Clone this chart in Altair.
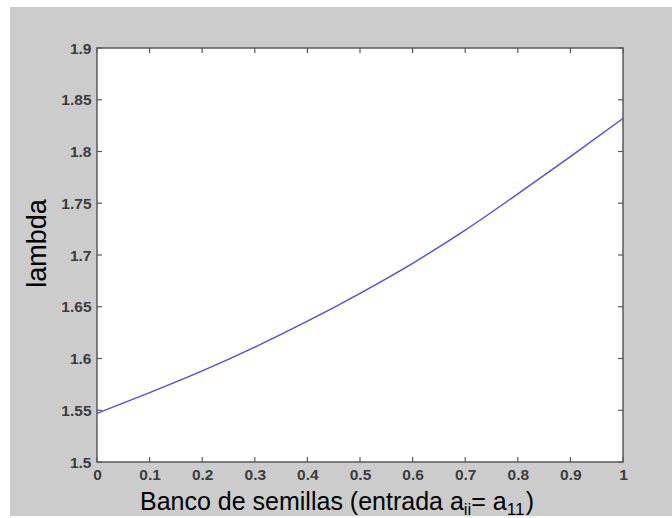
import altair as alt
import pandas as pd

# ---- data ----
x_vals = [0.0, 0.1, 0.2, 0.3, 0.4, 0.5, 0.6, 0.7, 0.8, 0.9, 1.0]
lambda_vals = [1.547, 1.567, 1.588, 1.611, 1.636, 1.663, 1.692, 1.724, 1.759, 1.795, 1.832]
x_ticks = [0, 0.1, 0.2, 0.3, 0.4, 0.5, 0.6, 0.7, 0.8, 0.9, 1]
y_ticks = [1.5, 1.55, 1.6, 1.65, 1.7, 1.75, 1.8, 1.85, 1.9]

df = pd.DataFrame({"x": x_vals, "lambda": lambda_vals})

W, H = 526, 414
FONT = "Liberation Sans"
GRAY_BG = "#cccccc"
FRAME = "#5a5a5a"
LABEL_C = "#3c3c3c"
LINE_C = "#4f4fe6"

xscale = alt.Scale(domain=[0, 1], nice=False, zero=False)
yscale = alt.Scale(domain=[1.5, 1.9], nice=False, zero=False)
one = alt.Data(values=[{"k": 0}])

bg = alt.Chart(one).mark_rect(color=GRAY_BG).encode(
    x=alt.value(-87), x2=alt.value(575), y=alt.value(-41), y2=alt.value(468)
)
plot_bg = alt.Chart(one).mark_rect(color="white").encode(
    x=alt.value(0), x2=alt.value(W), y=alt.value(0), y2=alt.value(H)
)

line = alt.Chart(df).mark_line(color=LINE_C, strokeWidth=1.4, interpolate="monotone").encode(
    x=alt.X("x:Q", scale=xscale, axis=alt.Axis(
        values=x_ticks, labelExpr="'' + datum.value", ticks=False, domain=False, grid=False,
        title=None, labelFont=FONT, labelFontSize=15.5, labelFontWeight="bold",
        labelColor=LABEL_C, labelPadding=5,
        labelFlush=False, labelOverlap=False, zindex=1)),
    y=alt.Y("lambda:Q", scale=yscale, axis=alt.Axis(
        values=y_ticks, labelExpr="'' + datum.value", ticks=False, domain=False, grid=False,
        labelFont=FONT, labelFontSize=15.5, labelFontWeight="bold",
        labelColor=LABEL_C, labelPadding=6,
        labelFlush=False, labelOverlap=False, zindex=1,
        title="lambda", titleFont=FONT, titleFontSize=27, titleFontWeight="normal",
        titleColor="#000000", titleX=-60, titleY=195, titleAngle=270,
        titleAlign="center", titleBaseline="middle")),
)

xt = alt.Data(values=[{"x": v} for v in x_ticks])
yt = alt.Data(values=[{"lambda": v} for v in y_ticks])

tick_top = alt.Chart(xt).mark_rule(color=FRAME, strokeWidth=1.2).encode(
    x=alt.X("x:Q", scale=xscale), y=alt.value(0), y2=alt.value(5))
tick_bot = alt.Chart(xt).mark_rule(color=FRAME, strokeWidth=1.2).encode(
    x=alt.X("x:Q", scale=xscale), y=alt.value(H), y2=alt.value(H - 5))
tick_left = alt.Chart(yt).mark_rule(color=FRAME, strokeWidth=1.2).encode(
    y=alt.Y("lambda:Q", scale=yscale), x=alt.value(0), x2=alt.value(5))
tick_right = alt.Chart(yt).mark_rule(color=FRAME, strokeWidth=1.2).encode(
    y=alt.Y("lambda:Q", scale=yscale), x=alt.value(W - 5), x2=alt.value(W))

frame = alt.Chart(one).mark_rect(fillOpacity=0, stroke=FRAME, strokeWidth=1.5).encode(
    x=alt.value(0), x2=alt.value(W), y=alt.value(0), y2=alt.value(H)
)

# x title with subscripts
BIG, SMALL = 25, 17
base_y, sub_y = 462, 467
x0 = 43
w_main = 12.950 * BIG
w_ii = 0.444 * SMALL
w_eqa = 1.418 * BIG
w_11 = 1.112 * SMALL

def txt(s, x, y, size):
    return alt.Chart(one).mark_text(
        text=s, align="left", baseline="alphabetic", font=FONT, fontSize=size, color="#000000"
    ).encode(x=alt.value(x), y=alt.value(y))

t1 = txt("Banco de semillas (entrada a", x0, base_y, BIG)
t2 = txt("ii", x0 + w_main, sub_y, SMALL)
t3 = txt("= a", x0 + w_main + w_ii, base_y, BIG)
t4 = txt("11", x0 + w_main + w_ii + w_eqa, sub_y, SMALL)
t5 = txt(")", x0 + w_main + w_ii + w_eqa + w_11, base_y, BIG)

chart = alt.layer(
    bg, plot_bg, line, tick_top, tick_bot, tick_left, tick_right, frame, t1, t2, t3, t4, t5
).properties(
    width=W, height=H, background="white",
    padding={"left": 97, "top": 48, "right": 49, "bottom": 56},
    autosize=alt.AutoSizeParams(type="none"),
).configure_view(stroke="transparent")

chart.save("out.html", embed_options={"renderer": "svg", "actions": False})
